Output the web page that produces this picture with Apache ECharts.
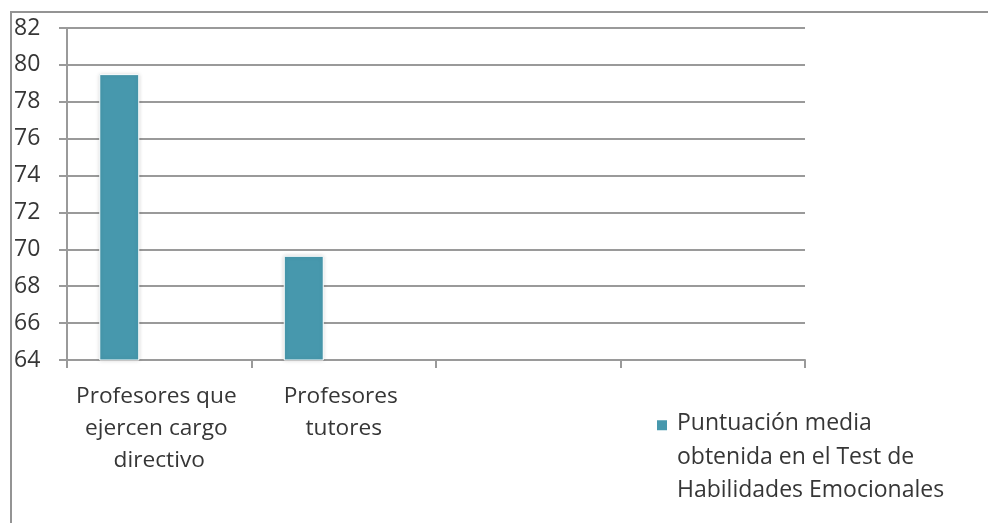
<!DOCTYPE html>
<html>
<head>
<meta charset="utf-8">
<script src="https://cdn.jsdelivr.net/npm/echarts@6/dist/echarts.min.js"></script>
<style>
html,body{margin:0;padding:0;background:#fff;}
#main{width:988px;height:523px;}
</style>
</head>
<body>
<div id="main"></div>
<script>
// Data
var categories = ['Profesores que ejercen cargo directivo', 'Profesores tutores', ' ', '  '];
var seriesName = 'Puntuación media obtenida en el Test de Habilidades Emocionales';
var seriesValues = [79.5, 69.65, '-', '-'];
var emptyValues = ['-', '-', '-', '-'];
var yTicks = [64, 66, 68, 70, 72, 74, 76, 78, 80, 82];

var textColor = '#363636';
var lineColor = '#9a9a9a';
var font = 'Open Sans';

var chart = echarts.init(document.getElementById('main'), null, {renderer: 'canvas'});
chart.setOption({
  animation: false,
  backgroundColor: '#ffffff',
  graphic: [{
    type: 'rect',
    shape: {x: 11, y: 12, width: 1200, height: 1000},
    style: {fill: 'none', stroke: '#949494', lineWidth: 2},
    silent: true,
    z: -1
  }],
  grid: {left: 67, right: 183, top: 28, bottom: 163, containLabel: false},
  legend: {
    show: true,
    data: [seriesName],
    left: 655,
    top: 407,
    padding: 0,
    orient: 'vertical',
    icon: 'path://M0,0H12V12H0Z M0,75.9H0.1V76H0Z',
    itemWidth: 12,
    itemHeight: 80,
    textStyle: {
      color: textColor,
      fontFamily: font,
      fontSize: 23,
      lineHeight: 33.5,
      width: 282,
      overflow: 'break',
      padding: [0, 0, 0, 4]
    }
  },
  xAxis: {
    type: 'category',
    data: categories,
    axisLine: {show: true, lineStyle: {color: lineColor, width: 2}},
    axisTick: {show: true, length: 8, lineStyle: {color: lineColor, width: 2}},
    axisLabel: {
      color: textColor,
      fontFamily: font,
      fontSize: 22.7,
      lineHeight: 32,
      margin: 21,
      interval: 0,
      width: 172,
      overflow: 'break'
    },
    splitLine: {show: false}
  },
  yAxis: {
    type: 'value',
    min: yTicks[0],
    max: yTicks[yTicks.length - 1],
    interval: 2,
    axisLine: {show: true, lineStyle: {color: lineColor, width: 2}},
    axisTick: {show: true, length: 8, lineStyle: {color: lineColor, width: 2}},
    axisLabel: {
      color: textColor,
      fontFamily: font,
      fontSize: 23,
      align: 'left',
      margin: 53
    },
    splitLine: {show: true, lineStyle: {color: lineColor, width: 2}}
  },
  series: [{
    name: seriesName,
    type: 'bar',
    data: seriesValues,
    barWidth: 40,
    barGap: '0%',
    itemStyle: {
      color: '#4798AD',
      borderColor: '#ffffff',
      borderWidth: 1,
      shadowColor: 'rgba(0,0,0,0.15)',
      shadowBlur: 4
    }
  }, {
    name: 'b',
    type: 'bar',
    data: emptyValues,
    barWidth: 40,
    barGap: '0%'
  }, {
    name: 'c',
    type: 'bar',
    data: emptyValues,
    barWidth: 40,
    barGap: '0%'
  }]
});
</script>
</body>
</html>
